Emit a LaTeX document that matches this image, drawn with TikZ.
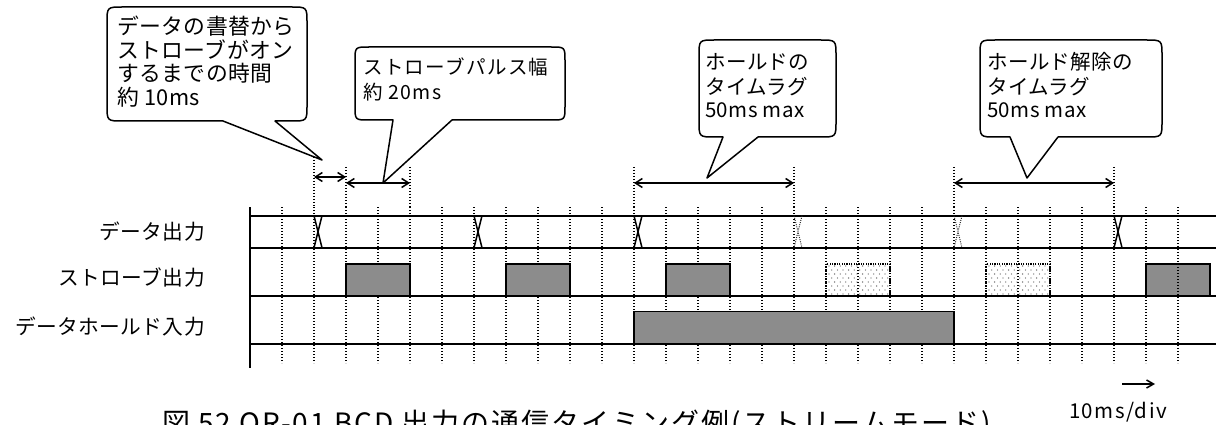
\documentclass[tikz,border=0pt]{standalone}
\usepackage{fontspec}
\newfontfamily\jpa[LetterSpace=2]{Noto Sans CJK JP}
\newfontfamily\jpb[LetterSpace=7]{Noto Sans CJK JP}
\usetikzlibrary{arrows.meta}
\begin{document}
\begin{tikzpicture}[x=1pt,y=-1pt,
  gridln/.style={line width=1.2pt, dash pattern=on 1.2pt off 1.8pt},
  sigln/.style={line width=1.6pt},
  pulse/.style={draw, line width=1.5pt, fill=black!45},
  ghost/.style={draw, line width=1.2pt, dash pattern=on 1.2pt off 1.2pt},
  xmark/.style={line width=1.5pt},
  xghost/.style={line width=1pt, dash pattern=on 1pt off 1.2pt, black!80},
  dimarr/.style={line width=1.5pt, {Straight Barb[length=7pt,width=9pt]}-{Straight Barb[length=7pt,width=9pt]}},
  co/.style={draw, line width=1.5pt, fill=white, line join=round},
  lab/.style={inner sep=0pt, anchor=east, font=\jpa\fontsize{20.7pt}{23pt}\selectfont},
  txtA/.style={inner sep=0pt, anchor=west, font=\jpa\fontsize{21.8pt}{24pt}\selectfont},
  txtB/.style={inner sep=0pt, anchor=west, font=\jpb\fontsize{19.5pt}{22pt}\selectfont},
  txtC/.style={inner sep=0pt, anchor=west, font=\jpa\fontsize{20.5pt}{23pt}\selectfont},
]
\useasboundingbox (0,0) rectangle (1224,425);
\clip (0,0) rectangle (1224,425);

% dotted time grid
\foreach \k in {1,...,29} {
  \draw[gridln] ({250+32*\k},207) -- ({250+32*\k},363);
}
\foreach \k/\t in {2/157,3/167,5/167,12/167,17/167,22/167,27/167} {
  \draw[gridln] ({250+32*\k},\t) -- ({250+32*\k},207);
}

% strobe pulses
\foreach \a in {346,506,666,1146} {
  \draw[pulse] (\a,264) rectangle ({\a+64},296);
}
% omitted strobe pulses (dotted)
\foreach \bx in {826,986} {
  \foreach \r in {0,...,7} {
    \pgfmathsetmacro\myyy{266+4*\r}
    \pgfmathsetmacro\myxo{\bx+3+2.8*mod(\r,2)}
    \foreach \c in {0,...,10} {
      \fill[black!65] ({\myxo+5.6*\c},\myyy) circle (0.65pt);
    }
  }
  \draw[ghost] (\bx,264) rectangle ({\bx+64},296);
}
% data hold pulse
\draw[pulse] (634,311.7) rectangle (954,344);
\draw[gridln] (1178,264) -- (1178,296);

% axis and base lines
\draw[sigln] (250,207) -- (250,368);
\foreach \y in {215.7,247.7,296,344} {
  \draw[sigln] (250,\y) -- (1216,\y);
}

% data change marks
\foreach \a in {314,474,634,1114} {
  \draw[xmark] (\a,215.7) -- ({\a+8},247.7) ({\a+8},215.7) -- (\a,247.7);
}
\foreach \a in {794,954} {
  \draw[xghost] (\a,215.7) -- ({\a+8},247.7) ({\a+8},215.7) -- (\a,247.7);
}

% dimension arrows
\coordinate (a1l) at (314,177); \coordinate (a1r) at (346,177);
\coordinate (a2l) at (346,183); \coordinate (a2r) at (410,183);
\coordinate (a3l) at (634,183); \coordinate (a3r) at (794,183);
\coordinate (a4l) at (954,183); \coordinate (a4r) at (1114,183);
\draw[dimarr] (a1l) -- (a1r);
\draw[dimarr] (a2l) -- (a2r);
\draw[dimarr] (a3l) -- (a3r);
\draw[dimarr] (a4l) -- (a4r);

% callouts
\coordinate (tip1) at (322,160);
\coordinate (tip2) at (383,183);
\coordinate (tip3) at (707,178);
\coordinate (tip4) at (1027,178);
\draw[co] (223,121) -- (123,121) .. controls (107,121) .. (107,105) -- (107,23) .. controls (107,7) .. (123,7) -- (291,7) .. controls (307,7) .. (307,23) -- (307,105) .. controls (307,121) .. (291,121) -- (275,121) -- (tip1) -- cycle;
\draw[co] (393,120) -- (369,120) .. controls (355,120) .. (355,106) -- (355,61) .. controls (355,47) .. (369,47) -- (551,47) .. controls (565,47) .. (565,61) -- (565,106) .. controls (565,120) .. (551,120) -- (452,120) -- (tip2) -- cycle;
\draw[co] (723,137) -- (715,137) .. controls (699,137) .. (699,121) -- (699,56) .. controls (699,40) .. (715,40) -- (820,40) .. controls (836,40) .. (836,56) -- (836,121) .. controls (836,137) .. (820,137) -- (758,137) -- (tip3) -- cycle;
\draw[co] (1010,137) -- (996,137) .. controls (980,137) .. (980,121) -- (980,56) .. controls (980,40) .. (996,40) -- (1146,40) .. controls (1162,40) .. (1162,56) -- (1162,121) .. controls (1162,137) .. (1146,137) -- (1058,137) -- (tip4) -- cycle;

% callout texts
\node[txtA] (c1a) at (117,26.5) {データの書替から};
\node[txtA] (c1b) at (117,50) {ストローブがオン};
\node[txtA] (c1c) at (117,73.3) {するまでの時間};
\node[txtA] (c1d) at (117,97.5) {約 10ms};
\node[txtB] (c2a) at (363,67) {ストローブパルス幅};
\node[txtB] (c2b) at (363,92) {約 20ms};
\node[txtC] (c3a) at (705,62) {ホールドの};
\node[txtC] (c3b) at (705,87) {タイムラグ};
\node[txtC] (c3c) at (705,110.5) {50ms max};
\node[txtC] (c4a) at (987,62) {ホールド解除の};
\node[txtC] (c4b) at (987,87) {タイムラグ};
\node[txtC] (c4c) at (987,110.5) {50ms max};

% signal labels
\node[lab] (l1) at (205,231.7) {データ出力};
\node[lab] (l2) at (205,277) {ストローブ出力};
\node[lab] (l3) at (205,327) {データホールド入力};

% time scale
\coordinate (u1) at (1122,384);
\coordinate (u2) at (1155,384);
\draw[line width=1.5pt, -{Straight Barb[length=7pt,width=8pt]}] (u1) -- (u2);
\node[inner sep=0pt, anchor=base east, font=\jpb\fontsize{20.5pt}{23pt}\selectfont] (unit) at (1167,418) {10ms/div};

% caption (cut by the lower edge)
\node[inner sep=0pt, anchor=base west, font=\jpb\fontsize{28pt}{31pt}\selectfont] (cap) at (162,433) {図 52 OR-01 BCD 出力の通信タイミング例(ストリームモード)};
\end{tikzpicture}
\end{document}
